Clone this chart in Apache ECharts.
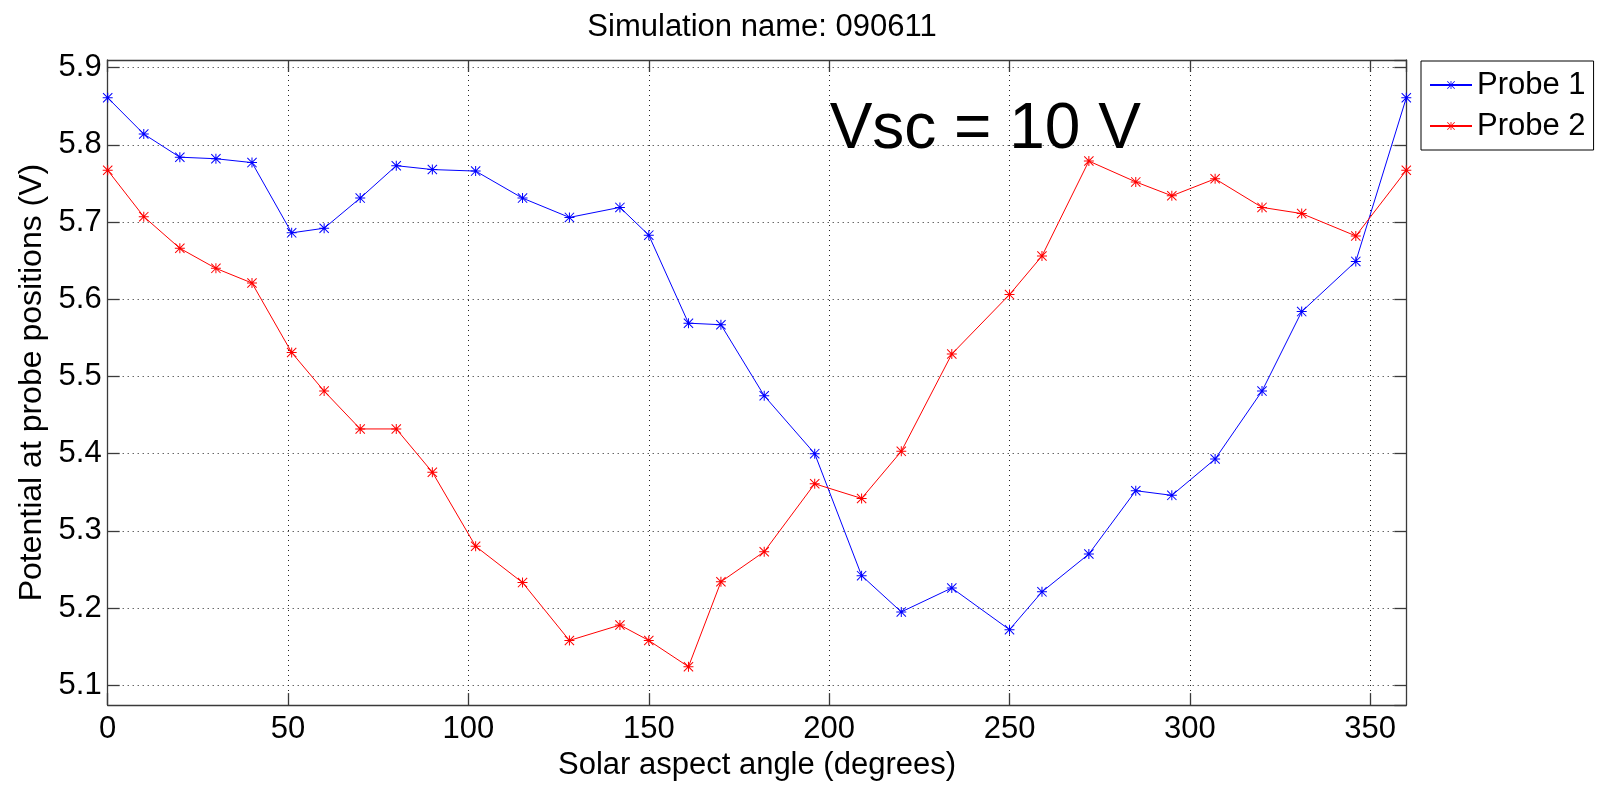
<!DOCTYPE html>
<html>
<head>
<meta charset="utf-8">
<script src="https://cdn.jsdelivr.net/npm/echarts@6/dist/echarts.min.js"></script>
<style>
html,body{margin:0;padding:0;background:#fff;}
#chart{width:1599px;height:786px;}
</style>
</head>
<body>
<div id="chart"></div>
<script>
// ---- data ----
const angles = [0,10,20,30,40,51,60,70,80,90,102,115,128,142,150,161,170,182,196,209,220,234,250,259,272,285,295,307,320,331,346,360];
const probe1 = [5.861,5.814,5.784,5.782,5.777,5.686,5.692,5.731,5.773,5.768,5.766,5.731,5.706,5.719,5.683,5.569,5.567,5.475,5.400,5.242,5.195,5.226,5.172,5.221,5.270,5.352,5.346,5.393,5.481,5.584,5.649,5.861];
const probe2 = [5.767,5.707,5.666,5.640,5.621,5.531,5.481,5.432,5.432,5.376,5.280,5.233,5.158,5.178,5.158,5.124,5.234,5.273,5.361,5.342,5.403,5.529,5.606,5.656,5.779,5.752,5.734,5.756,5.719,5.711,5.682,5.767];
const seriesNames = ['Probe 1','Probe 2'];
const titleText = 'Simulation name: 090611';
const xName = 'Solar aspect angle (degrees)';
const yName = 'Potential at probe positions (V)';
const annotation = {text: 'Vsc = 10 V', x: 200, y: 5.819};
const xRange = [0, 360];
const yRange = [5.0743, 5.9099];

const FONT = '"Liberation Sans", Arial, Helvetica, sans-serif';
const asterisk = 'path://M4.5,0h1v10h-1z M0,4.5h10v1h-10z M0.7,0L10,9.3L9.3,10L0,0.7z M9.3,0L10,0.7L0.7,10L0,9.3z';
const frameColor = '#3a3a3a';

function pairs(xs, ys){ return xs.map((x,i)=>[x, ys[i]]); }

const chart = echarts.init(document.getElementById('chart'), null, {renderer:'canvas'});

const gridLine = {show:true, lineStyle:{color:'#222', width:1, type:[1,4]}};
const axisLineStyle = {show:true, onZero:false, lineStyle:{color:frameColor, width:1.3}};
const tickIn = {show:true, inside:true, length:12, lineStyle:{color:frameColor, width:1.3}};

const option = {
  animation:false,
  backgroundColor:'#fff',
  title:{
    text:titleText, left:757, textAlign:'center', top:7,
    textStyle:{fontFamily:FONT, fontSize:31, fontWeight:'normal', color:'#000'}
  },
  grid:{left:107.7, right:192.7, top:60, bottom:75.7, containLabel:false},
  legend:{
    data:seriesNames, orient:'vertical', left:1421, top:61,
    backgroundColor:'#fff', borderColor:'#000', borderWidth:1,
    padding:[6,8,6,8], itemGap:5, itemWidth:42, itemHeight:10,
    textStyle:{fontFamily:FONT, fontSize:31, color:'#000', lineHeight:36}
  },
  xAxis:[{
    type:'value', min:xRange[0], max:xRange[1], interval:50, position:'bottom',
    name:xName, nameLocation:'middle', nameGap:40,
    nameTextStyle:{fontFamily:FONT, fontSize:31, color:'#000'},
    axisLine:axisLineStyle, axisTick:tickIn,
    axisLabel:{fontFamily:FONT, fontSize:31, color:'#000', margin:9, showMaxLabel:false},
    splitLine:gridLine
  },{
    type:'value', min:xRange[0], max:xRange[1], interval:50, position:'top',
    axisLine:axisLineStyle, axisTick:tickIn, axisLabel:{show:false}, splitLine:{show:false}
  }],
  yAxis:[{
    type:'value', min:yRange[0], max:yRange[1], splitNumber:8, position:'left',
    name:yName, nameLocation:'middle', nameGap:56,
    nameTextStyle:{fontFamily:FONT, fontSize:32, color:'#000'},
    axisLine:axisLineStyle, axisTick:tickIn,
    axisLabel:{fontFamily:FONT, fontSize:31, color:'#000', margin:6, showMinLabel:false, showMaxLabel:false,
      formatter:v=>{ const r=Math.round(v*10)/10; return Math.abs(r-v)<1e-6 ? r.toFixed(1) : ''; }},
    splitLine:gridLine
  },{
    type:'value', min:yRange[0], max:yRange[1], splitNumber:8, position:'right',
    axisLine:axisLineStyle, axisTick:tickIn, axisLabel:{show:false}, splitLine:{show:false}
  }],
  series:[{
    name:seriesNames[0], type:'line', data:pairs(angles, probe1),
    symbol:asterisk, symbolSize:10, showAllSymbol:true,
    lineStyle:{color:'#0000ff', width:1}, itemStyle:{color:'#0000ff'},
    emphasis:{disabled:true}, z:3
  },{
    name:seriesNames[1], type:'line', data:pairs(angles, probe2),
    symbol:asterisk, symbolSize:10, showAllSymbol:true,
    lineStyle:{color:'#ff0000', width:1}, itemStyle:{color:'#ff0000'},
    emphasis:{disabled:true}, z:3
  },{
    name:'annotation', type:'scatter', data:[[annotation.x, annotation.y]],
    symbolSize:1, itemStyle:{color:'rgba(0,0,0,0)'}, silent:true,
    label:{show:true, position:'right', distance:0, formatter:annotation.text,
      fontFamily:FONT, fontSize:64, color:'#000', opacity:1, textBorderWidth:0},
    z:4
  }]
};
chart.setOption(option);
</script>
</body>
</html>
